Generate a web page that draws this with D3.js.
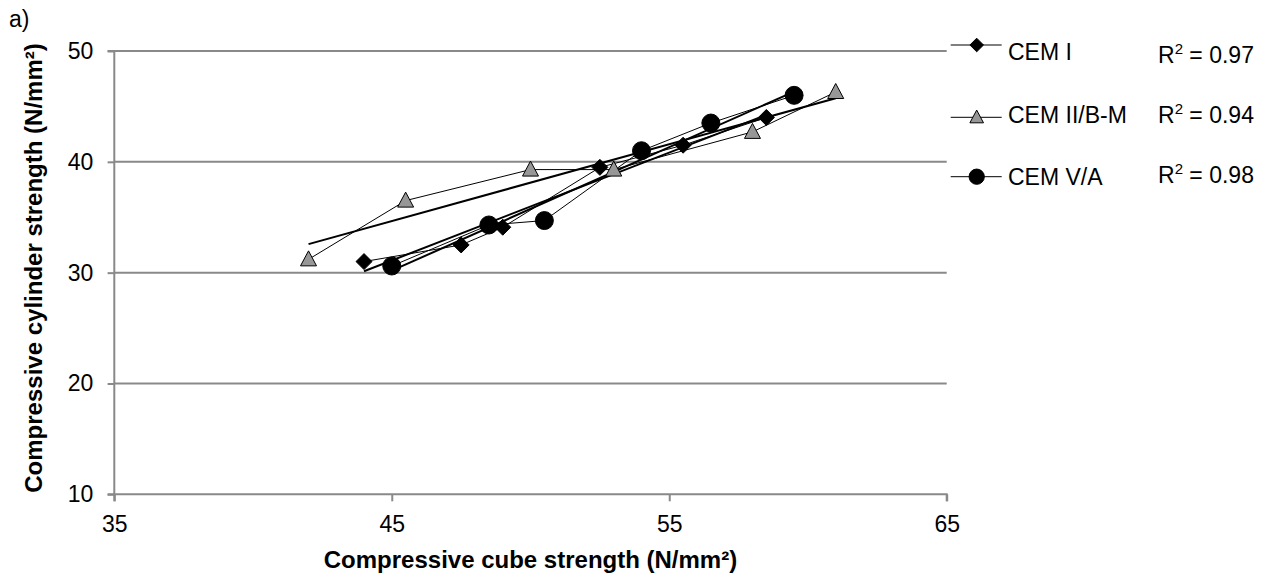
<!DOCTYPE html>
<html>
<head>
<meta charset="utf-8">
<script src="https://cdn.jsdelivr.net/npm/d3@7"></script>
<style>
  html, body { margin: 0; padding: 0; background: #fff; }
  svg { display: block; font-family: "Liberation Sans", Arial, Helvetica, sans-serif; }
</style>
</head>
<body>
<svg id="chart" width="1281" height="579"></svg>
<script>
// Cube vs cylinder compressive strength, one series per cement type (N/mm²)
const seriesNames = ["CEM I", "CEM II/B-M", "CEM V/A"];
const rSquared = ["0.97", "0.94", "0.98"];

const cemICube = [44, 47.5, 49, 52.5, 55.5, 58.5];
const cemICyl  = [31, 32.5, 34.1, 39.5, 41.5, 44];

const cemIICube = [42, 45.5, 50, 53, 58, 61];
const cemIICyl  = [31.2, 36.5, 39.3, 39.3, 42.7, 46.3];

const cemVCube = [45, 48.5, 50.5, 54, 56.5, 59.5];
const cemVCyl  = [30.6, 34.3, 34.7, 41, 43.5, 46];

const xTicks = [35, 45, 55, 65];
const yTicks = [10, 20, 30, 40, 50];

const svg = d3.select("#chart");
const x = d3.scaleLinear().domain([35, 65]).range([114.3, 946.7]);
const y = d3.scaleLinear().domain([10, 50]).range([494.3, 51]);

const gridColor = "#898989";
const fontSize = 23;

// horizontal gridlines
svg.append("g")
  .selectAll("line")
  .data(yTicks.filter(d => d > 10))
  .join("line")
  .attr("x1", x(35)).attr("x2", x(65))
  .attr("y1", d => y(d)).attr("y2", d => y(d))
  .attr("stroke", gridColor).attr("stroke-width", 2);

// axes
const xAxis = svg.append("g")
  .attr("transform", `translate(0,${y(10)})`)
  .call(d3.axisBottom(x).tickValues(xTicks).tickSize(7).tickPadding(14).tickFormat(d3.format("d")));
const yAxis = svg.append("g")
  .attr("transform", `translate(${x(35)},0)`)
  .call(d3.axisLeft(y).tickValues(yTicks).tickSize(6.7).tickPadding(14.3).tickFormat(d3.format("d")));

[xAxis, yAxis].forEach(g => {
  g.select(".domain").attr("stroke", gridColor).attr("stroke-width", 2);
  g.selectAll(".tick line").attr("stroke", gridColor).attr("stroke-width", 2);
  g.selectAll(".tick text")
    .attr("fill", "#000")
    .style("font-size", fontSize + "px")
    .style("font-family", "'Liberation Sans', Arial, sans-serif");
});
xAxis.select(".domain").attr("d", `M${x(35)},7V0H${x(65)}V7`);
yAxis.select(".domain").attr("d", `M-6.7,${y(50)}H0V${y(10)}H-6.7`);

// axis titles
const xTitle = svg.append("text")
  .attr("x", (x(35) + x(65)) / 2).attr("y", 568)
  .attr("text-anchor", "middle")
  .style("font-size", "24px").style("font-weight", "bold");
xTitle.append("tspan").text("Compressive cube strength (N/mm²)");

svg.append("text")
  .attr("transform", "translate(42,268) rotate(-90)")
  .attr("text-anchor", "middle")
  .style("font-size", "24px").style("font-weight", "bold")
  .text("Compressive cylinder strength (N/mm²)");

svg.append("text")
  .attr("x", 9).attr("y", 27)
  .style("font-size", fontSize + "px")
  .text("a)");

// marker drawing helpers
const markerStyles = [
  { shape: "diamond", fill: "#000", stroke: "#000" },
  { shape: "triangle", fill: "#979797", stroke: "#000" },
  { shape: "circle", fill: "#000", stroke: "#000" }
];

function markerPath(shape, scale) {
  if (shape === "diamond") {
    const h = 8 * scale;
    return `M0,${-h}L${h},0L0,${h}L${-h},0Z`;
  }
  if (shape === "triangle") {
    const w = 8 * scale, t = 8.5 * scale, b = 6.5 * scale;
    return `M0,${-t}L${w},${b}L${-w},${b}Z`;
  }
  return d3.symbol().type(d3.symbolCircle).size(Math.PI * Math.pow(9 * scale, 2))();
}

function fit(xs, ys) {
  const mx = d3.mean(xs), my = d3.mean(ys);
  let sxy = 0, sxx = 0;
  xs.forEach((v, i) => { sxy += (v - mx) * (ys[i] - my); sxx += (v - mx) * (v - mx); });
  const slope = sxy / sxx;
  return v => my + slope * (v - mx);
}

const allSeries = [
  { cube: cemICube, cyl: cemICyl },
  { cube: cemIICube, cyl: cemIICyl },
  { cube: cemVCube, cyl: cemVCyl }
];

const line = d3.line().x(d => x(d[0])).y(d => y(d[1]));

allSeries.forEach((s, i) => {
  const pts = s.cube.map((v, j) => [v, s.cyl[j]]);
  const g = svg.append("g");
  // measured points joined in order
  g.append("path")
    .attr("d", line(pts))
    .attr("fill", "none").attr("stroke", "#000").attr("stroke-width", 1);
  // linear trendline across the measured range
  const f = fit(s.cube, s.cyl);
  const x0 = d3.min(s.cube), x1 = d3.max(s.cube);
  g.append("path")
    .attr("d", line([[x0, f(x0)], [x1, f(x1)]]))
    .attr("fill", "none").attr("stroke", "#000").attr("stroke-width", 2);
});

allSeries.forEach((s, i) => {
  const st = markerStyles[i];
  svg.append("g")
    .selectAll("path")
    .data(s.cube.map((v, j) => [v, s.cyl[j]]))
    .join("path")
    .attr("transform", d => `translate(${x(d[0])},${y(d[1])})`)
    .attr("d", markerPath(st.shape, 1))
    .attr("fill", st.fill).attr("stroke", st.stroke).attr("stroke-width", 1);
});

// legend with coefficients of determination
const legendY = [45, 117.3, 176.7];
const textY = [60, 123.3, 185];
const r2Y = [63, 122.7, 182.7];
const legend = svg.append("g");
seriesNames.forEach((name, i) => {
  const st = markerStyles[i];
  legend.append("line")
    .attr("x1", 950.7).attr("x2", 1001.7)
    .attr("y1", legendY[i]).attr("y2", legendY[i])
    .attr("stroke", "#000").attr("stroke-width", 1);
  legend.append("path")
    .attr("transform", `translate(976.7,${legendY[i]})`)
    .attr("d", markerPath(st.shape, 0.85))
    .attr("fill", st.fill).attr("stroke", st.stroke).attr("stroke-width", 1);
  legend.append("text")
    .attr("x", 1008).attr("y", textY[i])
    .style("font-size", fontSize + "px")
    .text(name);
  const r = legend.append("text")
    .attr("x", 1158).attr("y", r2Y[i])
    .style("font-size", fontSize + "px");
  r.append("tspan").text("R");
  r.append("tspan").attr("dy", -9).style("font-size", "15px").text("2");
  r.append("tspan").attr("dy", 9).text(" = " + rSquared[i]);
});
</script>
</body>
</html>
